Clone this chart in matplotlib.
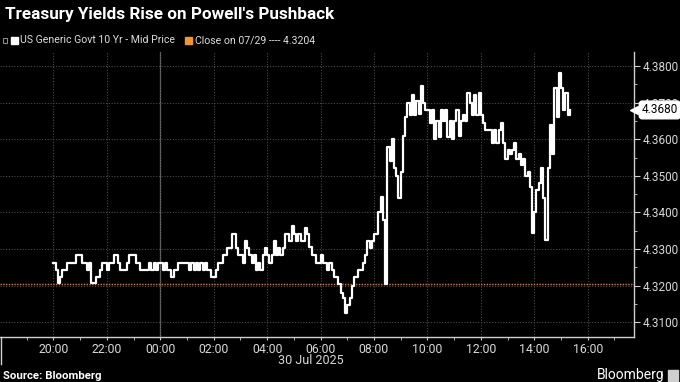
import matplotlib.pyplot as plt
import matplotlib.dates as mdates
from matplotlib.patches import Rectangle
from matplotlib.lines import Line2D
import pandas as pd

plt.rcParams['font.family'] = ['Roboto', 'DejaVu Sans']

# 10Y yield, 5-minute steps from 29 Jul 20:00 (one row per hour)
h20 = [4.3263, 4.3243, 4.3207, 4.3224, 4.3243, 4.3243, 4.3263, 4.3263, 4.3263, 4.3263, 4.3284, 4.3284]
h21 = [4.3284, 4.3263, 4.3263, 4.3243, 4.3263, 4.3207, 4.3207, 4.3224, 4.3224, 4.3243, 4.3263, 4.3263]
h22 = [4.3243, 4.3263, 4.3263, 4.3284, 4.3284, 4.3263, 4.3243, 4.3243, 4.3243, 4.3263, 4.3284, 4.3284]
h23 = [4.3284, 4.3263, 4.3263, 4.3243, 4.3243, 4.3243, 4.3243, 4.3263, 4.3243, 4.3263, 4.3243, 4.3263]
h00 = [4.3263, 4.3243, 4.3263, 4.3243, 4.3243, 4.3224, 4.3243, 4.3243, 4.3263, 4.3263, 4.3263, 4.3263]
h01 = [4.3263, 4.3243, 4.3263, 4.3243, 4.3263, 4.3243, 4.3263, 4.3243, 4.3263, 4.3243, 4.3243, 4.3224]
h02 = [4.3224, 4.3243, 4.3263, 4.3263, 4.3284, 4.3284, 4.3303, 4.3303, 4.3341, 4.3341, 4.3303, 4.3284]
h03 = [4.3284, 4.3263, 4.3323, 4.3303, 4.3284, 4.3263, 4.3284, 4.3243, 4.3263, 4.3243, 4.3284, 4.3303]
h04 = [4.3284, 4.3263, 4.3284, 4.3323, 4.3284, 4.3303, 4.3284, 4.3303, 4.3341, 4.3341, 4.3323, 4.3363]
h05 = [4.3341, 4.3323, 4.3341, 4.3323, 4.3323, 4.3358, 4.3341, 4.3306, 4.3284, 4.3284, 4.3263, 4.3263]
h06 = [4.3284, 4.3263, 4.3263, 4.3243, 4.3263, 4.3243, 4.3224, 4.3224, 4.3204, 4.3180, 4.3165, 4.3125]
h07 = [4.3147, 4.3165, 4.3200, 4.3224, 4.3224, 4.3243, 4.3243, 4.3263, 4.3284, 4.3323, 4.3303, 4.3323]
h08 = [4.3341, 4.3341, 4.3400, 4.3443, 4.3380, 4.3204, 4.3580, 4.3540, 4.3600, 4.3520, 4.3500, 4.3440]
h09 = [4.3510, 4.3610, 4.3660, 4.3700, 4.3665, 4.3720, 4.3665, 4.3705, 4.3670, 4.3745, 4.3700, 4.3680]
h10 = [4.3680, 4.3645, 4.3680, 4.3600, 4.3650, 4.3605, 4.3680, 4.3650, 4.3680, 4.3605, 4.3650, 4.3600]
h11 = [4.3650, 4.3680, 4.3610, 4.3650, 4.3665, 4.3650, 4.3725, 4.3700, 4.3665, 4.3720, 4.3665, 4.3725]
h12 = [4.3665, 4.3645, 4.3625, 4.3625, 4.3625, 4.3590, 4.3625, 4.3590, 4.3625, 4.3645, 4.3590, 4.3545]
h13 = [4.3570, 4.3560, 4.3570, 4.3590, 4.3545, 4.3560, 4.3530, 4.3545, 4.3500, 4.3510, 4.3470, 4.3345]
h14 = [4.3400, 4.3460, 4.3480, 4.3520, 4.3440, 4.3325, 4.3520, 4.3640, 4.3560, 4.3740, 4.3660, 4.3780]
h15 = [4.3740, 4.3680, 4.3725, 4.3665, 4.3680]

yields = (h20 + h21 + h22 + h23 + h00 + h01 + h02 + h03 + h04 + h05 + h06 + h07
          + h08 + h09 + h10 + h11 + h12 + h13 + h14 + h15)
prev_close = 4.3204
last_value = 4.3680
yticks = [4.31, 4.32, 4.33, 4.34, 4.35, 4.36, 4.37, 4.38]

title = "Treasury Yields Rise on Powell's Pushback"
series_name = 'US Generic Govt 10 Yr - Mid Price'
close_label = 'Close on 07/29 ---- 4.3204'
date_label = '30 Jul 2025'

W, H = 680, 382
fig = plt.figure(figsize=(6.8, 3.82), dpi=100, facecolor='black')
ax = fig.add_axes([0, 1 - 337 / H, 634 / W, (337 - 52) / H])
ax.set_facecolor('black')

times = pd.date_range('2025-07-29 20:00', periods=len(yields), freq='5min')
ax.plot(times, yields, drawstyle='steps-post', color='white', lw=1.6, zorder=3)
ax.axhline(prev_close, color='#d9822b', lw=1.0, ls=(0, (1, 1)), zorder=2)
ax.axvline(pd.Timestamp('2025-07-30 00:00'), color='#6a6a6a', lw=0.9, zorder=1)

ax.set_xlim(pd.Timestamp('2025-07-29 18:00'), pd.Timestamp('2025-07-30 17:44'))
ax.set_ylim(4.30596, 4.38383)

ax.yaxis.tick_right()
ax.set_yticks(yticks)
ax.set_yticklabels([f'{v:.4f}' for v in yticks])
ax.set_yticks([v + 0.005 for v in yticks[:-1]], minor=True)
ax.set_xticks(pd.date_range('2025-07-29 20:00', '2025-07-30 16:00', freq='2h'))
ax.set_xticks(pd.date_range('2025-07-29 19:00', '2025-07-30 17:00', freq='2h'), minor=True)
ax.xaxis.set_major_formatter(mdates.DateFormatter('%H:%M'))

ax.grid(True, which='major', color='#4a4a4a', ls=(0, (1, 1.5)), lw=0.8)
for s in ['top', 'left']:
    ax.spines[s].set_visible(False)
for s in ['right', 'bottom']:
    ax.spines[s].set_color('#cfcfcf')
    ax.spines[s].set_linewidth(1.0)
ax.tick_params(axis='both', which='both', colors='#cfcfcf', labelcolor='#d8d8d8')
ax.tick_params(axis='x', which='major', length=2, pad=2, labelsize=8.8)
ax.tick_params(axis='x', which='minor', length=2)
ax.tick_params(axis='y', which='major', length=4, pad=2, labelsize=8.5)
ax.tick_params(axis='y', which='minor', length=2)

# last value tag
ytr = ax.get_yaxis_transform()
ax.plot([1.0], [last_value], marker='<', markersize=6, color='white', transform=ytr,
        clip_on=False, zorder=9)
ax.annotate(f'{last_value:.4f}', xy=(1, last_value), xycoords=ytr,
            xytext=(5.5, 0), textcoords='offset points', ha='left', va='center',
            fontsize=8.5, color='black', annotation_clip=False, zorder=10,
            bbox=dict(boxstyle='round,pad=0.2,rounding_size=0.25', fc='white', ec='white'))

fig.text(5 / W, 1 - 15 / H, title, fontsize=12.3, fontweight='bold', color='white', va='center')

# legend row
fig.add_artist(Rectangle((3 / W, 1 - 43 / H), 4 / W, 5 / H, transform=fig.transFigure,
                         fill=False, ec='#8a8a8a', lw=0.8))
fig.add_artist(Rectangle((11 / W, 1 - 44 / H), 7 / W, 7 / H, transform=fig.transFigure, color='white'))
fig.text(20 / W, 1 - 40 / H, series_name, fontsize=7.6, color='#dddddd', va='center')
fig.add_artist(Rectangle((185 / W, 1 - 44 / H), 7 / W, 7 / H, transform=fig.transFigure, color='#f0962e'))
fig.text(195 / W, 1 - 40 / H, close_label, fontsize=7.6, color='#dddddd', va='center')

fig.text(311 / W, 1 - 361 / H, date_label, fontsize=9, color='#d8d8d8', ha='center', va='center')
fig.add_artist(Line2D([1 / W, 1 / W], [1 - 337 / H, 1 - 364 / H], transform=fig.transFigure,
                      color='#cfcfcf', lw=1.0))

fig.text(3 / W, 1 - 376 / H, 'Source: Bloomberg', fontsize=8.2, fontweight='bold', color='white', va='center')
fig.text(664 / W, 1 - 375 / H, 'Bloomberg', fontsize=10, color='white', ha='right', va='center')
fig.add_artist(Rectangle((668 / W, 1 - 381 / H), 10 / W, 11 / H, transform=fig.transFigure, color='#cfcfcf'))

fig.savefig('out.png', dpi=100, facecolor='black')
